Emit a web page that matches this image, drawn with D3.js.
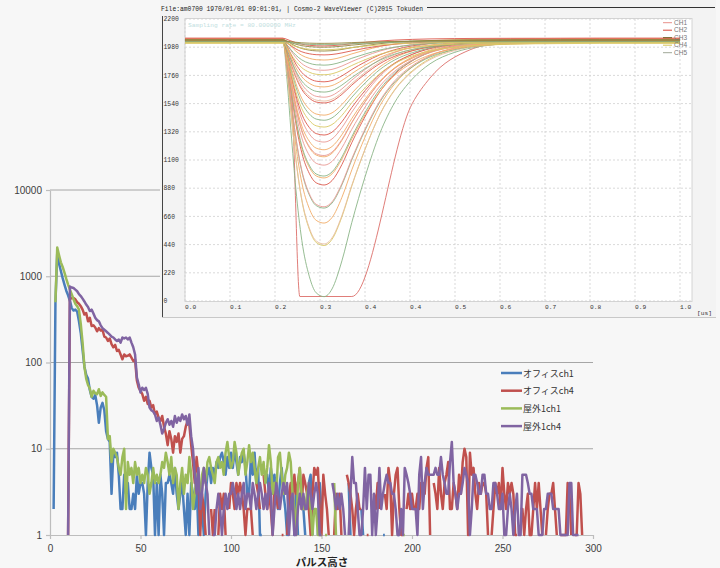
<!DOCTYPE html>
<html>
<head>
<meta charset="utf-8">
<script src="https://d3js.org/d3.v7.min.js"></script>
<style>
  body { margin: 0; background: #f7f7f7; }
  svg { display: block; }
  .ax text { font-family: "Liberation Sans", sans-serif; font-size: 10px; fill: #404040; }
  .mono { font-family: "Liberation Mono", "DejaVu Sans Mono", monospace; }
</style>
</head>
<body>
<script>
// ---- main histogram (log scale) ----
var xTicks = [0, 50, 100, 150, 200, 250, 300];
var yTicks = [1, 10, 100, 1000, 10000];
var seriesNames = ["オフィスch1", "オフィスch4", "屋外1ch1", "屋外1ch4"];
var seriesColors = ["#4a7ebb", "#c0504d", "#9bbb59", "#8064a2"];

// counts per pulse height bin (index = pulse height), 0 = empty bin
var office_ch1 = [
  0,0,2,490,1850,1400,1150,950,800,680,
  600,520,430,400,410,390,300,220,140,90,
  72,65,48,40,38,42,32,20,30,34,
  28,16,13,12,3,9,8,9,5,2,
  2,5,3,4,2,2,3,2,5,3,
  4,4,3,1,4,9,6,5,1,4,
  1,5,3,1,4,4,5,4,3,6,
  3,2,3,4,2,1,3,1,4,3,
  2,4,1,3,2,1,3,5,6,4,
  6,5,7,6,8,9,7,5,8,6,
  9,6,10,7,5,8,7,9,6,3,
  3,8,5,9,4,6,1,1,0,4,
  5,3,6,4,5,3,2,4,6,3,
  2,1,3,2,4,1,3,1,0,0,
  2,1,0,4,5,1,0,0,1,4,
  2,0,0,0,1,0,0,0,0,0,
  0,0,0,0,0,4,1,0,0,0,
  0,0,2,1,0,0,0,0,0,0,
  0,0,0,0,1,1,0,0,0,0,
  0,0,1,1,0,0
];
var office_ch4 = [
  0,0,0,0,0,0,0,0,0,0,
  1,540,560,560,540,500,480,450,410,360,
  375,300,330,265,270,255,230,250,235,240,
  200,195,178,190,163,150,160,136,140,124,
  109,124,118,120,124,114,104,108,62,51,
  47,43,36,40,33,36,30,32,25,27,
  23,21,24,18,15,11,16,13,9,14,
  12,15,9,13,14,18,21,19,11,7,
  4,8,5,1,3,2,1,0,0,2,
  1,2,0,1,3,2,3,1,0,2,
  4,3,2,4,3,4,3,2,1,2,
  2,2,1,0,4,3,2,0,5,3,
  2,3,2,1,4,3,2,0,1,1,
  0,1,3,4,2,5,3,4,6,2,
  5,4,3,2,1,3,6,5,6,2,
  1,5,3,2,1,0,0,1,3,2,
  3,1,0,0,5,4,3,2,1,2,
  3,2,2,0,0,1,1,0,0,3,
  2,4,2,0,0,3,2,6,4,1,
  3,5,6,2,1,1,0,2,3,2,
  3,2,2,3,2,4,4,3,6,8,
  1,0,4,3,2,6,3,2,4,5,
  7,2,2,4,3,2,5,3,7,10,
  8,1,9,5,6,3,2,4,3,4,
  4,3,1,0,1,2,4,3,4,2,
  6,3,2,4,3,4,3,1,1,0,
  2,2,1,2,3,1,1,2,4,2,
  4,2,1,0,1,2,3,3,4,2,
  1,0,1,1,1,1,4,3,1,0,
  1,1,4,3,1,0,0
];
var outdoor_ch1 = [
  0,0,0,500,2150,1750,1450,1280,1100,930,
  800,700,620,540,480,450,410,280,170,90,
  65,55,50,40,47,44,43,49,41,45,
  42,40,13,14,7,10,9,8,6,5,
  8,10,2,7,5,6,4,7,5,6,
  4,5,4,6,5,3,4,6,4,5,
  4,5,7,6,9,7,5,8,4,6,
  5,2,4,6,3,5,4,8,5,2,
  3,5,4,3,5,6,4,7,8,6,
  5,4,7,8,6,7,5,9,12,8,
  6,7,12,9,5,7,9,10,5,7,
  11,7,9,6,4,6,8,5,7,4,
  6,11,7,3,4,3,8,9,5,3,
  5,6,9,7,3,2,1,4,6,3,
  2,2,3,4,2,1,2,2,1,1,
  1,0,1,1,0,0,0,4,1,0,
  0,0,0,0,0,0,0,0,0,0,
  0,0,0,0,0,0,0,0,0,0,
  0,0,0,0,0,0,0,0,0,0,
  0,0,0,0,0,1,1,0
];
var outdoor_ch4 = [
  0,0,0,0,0,0,0,0,0,0,
  1,760,740,730,700,670,620,590,550,510,
  470,440,395,410,370,330,310,300,270,250,
  240,230,220,210,200,195,185,178,185,170,
  195,190,195,185,195,170,150,124,67,56,
  45,51,48,51,43,30,28,27,25,21,
  23,19,15,17,20,22,19,21,18,24,
  20,23,21,25,22,24,19,25,14,10,
  5,3,6,2,3,6,4,3,1,0,
  1,1,2,3,2,1,2,3,2,3,
  3,4,3,2,3,2,3,4,2,3,
  3,2,4,3,2,3,4,3,2,3,
  2,4,3,1,2,4,3,2,3,4,
  3,4,1,2,3,1,1,2,3,2,
  3,2,2,4,3,2,3,4,3,1,
  1,0,0,0,0,0,4,3,2,3,
  2,3,2,1,0,1,3,8,4,4,
  2,1,1,2,6,2,5,5,1,3,
  1,2,6,2,3,4,5,4,4,3,
  3,2,1,1,2,1,6,5,4,3,
  2,2,2,1,5,8,2,4,6,5,
  5,5,5,6,5,5,8,5,4,3,
  3,7,12,4,3,2,3,3,4,6,
  5,4,1,2,5,5,4,3,3,5,
  5,3,3,2,2,4,4,3,2,2,
  3,1,1,2,3,2,1,2,3,1,
  1,5,5,5,4,3,3,2,2,2,
  1,1,1,2,2,3,3,3,2,2,
  2,2,1,1,1,1,1,4,4,1,
  1,1,1,0
];
var seriesData = [office_ch1, office_ch4, outdoor_ch1, outdoor_ch4];

// ---- inset: waveform viewer ----
var waveXLabels = ["0.0","0.1","0.2","0.3","0.4","0.4","0.5","0.6","0.7","0.8","0.9","1.0"];
var waveYTicks = [0, 220, 440, 660, 880, 1100, 1320, 1540, 1760, 1980, 2200];
var chNames = ["CH1", "CH2", "CH3", "CH4", "CH5"];
var chColors = ["#e8908a", "#d9483b", "#6e5a1e", "#d6c455", "#a0a898"];
var wavePalette = ["#e8908a", "#d9483b", "#8a7a2c", "#d6c455", "#7fae7a", "#f0a458", "#e6b898"];

// pulse shape (fraction of pulse depth vs time)
var waveT     = [0, 0.198, 0.206, 0.214, 0.224, 0.236, 0.251, 0.265, 0.281, 0.297, 0.317, 0.337, 0.364, 0.394, 0.424, 0.459, 0.495, 0.545, 0.596, 0.657, 0.758, 0.838, 1.0];
var waveShape = [0, 0, 0.15, 0.35, 0.58, 0.78, 0.92, 0.985, 1, 0.97, 0.86, 0.71, 0.53, 0.36, 0.24, 0.15, 0.09, 0.045, 0.022, 0.01, 0.003, 0, 0];
// each pulse: minimum, baseline, colour index
var waveMin  = [34, 433, 445, 608, 725, 735, 905, 960, 975, 1060, 1125, 1135, 1180, 1240, 1295, 1357, 1410, 1450, 1545, 1560, 1590, 1630, 1670, 1710, 1765, 1800, 1840, 1880, 1920, 1950, 1960, 1980, 1990, 2000, 2010];
var waveBase = [2030, 2035, 2025, 2040, 2020, 2030, 2045, 2015, 2035, 2025, 2040, 2030, 2020, 2045, 2035, 2010, 2030, 2040, 2025, 2035, 2050, 2020, 2030, 2040, 2015, 2035, 2025, 2045, 2030, 2040, 2020, 2035, 2050, 2025, 2030];
var waveCol  = [4, 3, 6, 5, 4, 0, 1, 5, 4, 0, 5, 0, 5, 0, 1, 3, 4, 5, 1, 6, 0, 4, 5, 1, 3, 0, 4, 5, 1, 2, 3, 2, 1, 4, 2];
// the saturated pulse
var satT = [0, 0.198, 0.216, 0.232, 0.337, 0.459, 0.495, 0.576, 0.636, 0.758, 1.0];
var satV = [2030, 2030, 1560, 35, 35, 1540, 1740, 1960, 2010, 2030, 2030];

var W = 720, H = 568;
var svg = d3.select("body").append("svg").attr("width", W).attr("height", H);
svg.append("rect").attr("width", W).attr("height", H).attr("fill", "#f7f7f7");

// scales
var x = d3.scaleLinear().domain([0, 300]).range([50, 593]);
var y = d3.scaleLog().domain([1, 10000]).range([535, 190]).clamp(true);

// grid
svg.append("g").selectAll("line")
  .data(yTicks.filter(function (d) { return d > 1; }))
  .enter().append("line")
  .attr("x1", 50).attr("x2", 593)
  .attr("y1", function (d) { return y(d); })
  .attr("y2", function (d) { return y(d); })
  .attr("stroke", "#a6a6a6").attr("stroke-width", 1);

// axes
var gy = svg.append("g").attr("class", "ax").attr("transform", "translate(50,0)")
  .call(d3.axisLeft(y).tickValues(yTicks).tickFormat(d3.format("d"))
    .tickSize(4).tickSizeOuter(0).tickPadding(4));
var gx = svg.append("g").attr("class", "ax").attr("transform", "translate(0,535)")
  .call(d3.axisBottom(x).tickValues(xTicks).tickSize(4).tickSizeOuter(0).tickPadding(6));
svg.selectAll(".ax .domain, .ax .tick line").attr("stroke", "#bdbdbd").attr("stroke-width", 1.2);

// series
var line = d3.line()
  .defined(function (d) { return d > 0; })
  .x(function (d, i) { return x(i); })
  .y(function (d) { return y(d); });

seriesData.forEach(function (s, k) {
  svg.append("path").datum(s)
    .attr("d", line)
    .attr("fill", "none")
    .attr("stroke", seriesColors[k])
    .attr("stroke-width", 2.5)
    .attr("stroke-linejoin", "round");
});

// x title
svg.append("text").text("パルス高さ")
  .attr("x", 322).attr("y", 566)
  .attr("text-anchor", "middle")
  .attr("font-family", "Noto Sans CJK JP")
  .attr("font-size", 10.5).attr("font-weight", "bold").attr("fill", "#222");

// legend
var lg = svg.append("g");
seriesNames.forEach(function (n, i) {
  var ly = 373 + i * 17.7;
  lg.append("line").attr("x1", 501).attr("x2", 522).attr("y1", ly).attr("y2", ly)
    .attr("stroke", seriesColors[i]).attr("stroke-width", 2.5);
  lg.append("text").text(n).attr("x", 523).attr("y", ly + 3.5)
    .attr("font-family", "Noto Sans CJK JP").attr("font-size", 9).attr("fill", "#333");
});

// ---- inset ----
var ins = svg.append("g");
ins.append("rect").attr("x", 160).attr("y", 0).attr("width", 556).attr("height", 318)
  .attr("fill", "#f3f3f3");
ins.append("line").attr("x1", 162.5).attr("x2", 162.5).attr("y1", 16).attr("y2", 318)
  .attr("stroke", "#444").attr("stroke-width", 1);
ins.append("line").attr("x1", 162).attr("x2", 716).attr("y1", 317.5).attr("y2", 317.5)
  .attr("stroke", "#c8c8c8").attr("stroke-width", 1);

ins.append("text").attr("class", "mono")
  .text("File:am0700 1970/01/01 09:01:01, | Cosmo-2 WaveViewer (C)2015 Tokuden")
  .attr("x", 161).attr("y", 11)
  .attr("font-size", 6.5).attr("textLength", 262).attr("lengthAdjust", "spacingAndGlyphs")
  .attr("fill", "#222");
ins.append("line").attr("x1", 427).attr("x2", 715).attr("y1", 7.5).attr("y2", 7.5)
  .attr("stroke", "#333").attr("stroke-width", 1);

var xs = d3.scaleLinear().domain([0, 1]).range([185, 680]);
var ys = d3.scaleLinear().domain([0, 2200]).range([301, 19]);

ins.append("rect").attr("x", 185).attr("y", 18.5).attr("width", 507).attr("height", 283)
  .attr("fill", "#fff").attr("stroke", "#d4d4d4").attr("stroke-width", 1);

var xtv = waveXLabels.map(function (d, i) { return i / (waveXLabels.length - 1); });
ins.append("g").selectAll("line").data(xtv).enter().append("line")
  .attr("x1", function (d) { return xs(d); }).attr("x2", function (d) { return xs(d); })
  .attr("y1", 19).attr("y2", 301)
  .attr("stroke", "#cfcfcf").attr("stroke-width", 0.8).attr("stroke-dasharray", "2,2");
ins.append("g").selectAll("line").data(waveYTicks).enter().append("line")
  .attr("x1", 185).attr("x2", 692)
  .attr("y1", function (d) { return ys(d); }).attr("y2", function (d) { return ys(d); })
  .attr("stroke", "#cfcfcf").attr("stroke-width", 0.8).attr("stroke-dasharray", "2,2");

ins.append("text").attr("class", "mono").text("Sampling rate = 80.000000 MHz")
  .attr("x", 188).attr("y", 27).attr("font-size", 6.2).attr("fill", "#bfe0e0");

// waveforms
var wline = d3.line()
  .x(function (d) { return xs(d[0]); })
  .y(function (d) { return ys(d[1]); })
  .curve(d3.curveMonotoneX);
var wg = ins.append("g").attr("fill", "none").attr("stroke-width", 0.9).attr("opacity", 0.9);
wg.append("path")
  .attr("d", wline(satT.map(function (t, i) { return [t, satV[i]]; })))
  .attr("stroke", "#d9605a");
waveMin.forEach(function (m, k) {
  var b = waveBase[k];
  var pts = waveT.map(function (t, i) { return [t, b - (b - m) * waveShape[i]]; });
  wg.append("path").attr("d", wline(pts)).attr("stroke", wavePalette[waveCol[k]]);
});

// inset axes labels
ins.append("g").selectAll("text").data(waveYTicks).enter().append("text")
  .attr("class", "mono").text(function (d) { return d; })
  .attr("x", 163.5).attr("y", function (d) { return ys(d) + 2.2; })
  .attr("font-size", 6.4).attr("fill", "#333");
ins.append("g").selectAll("text").data(xtv).enter().append("text")
  .attr("class", "mono").text(function (d, i) { return waveXLabels[i]; })
  .attr("x", function (d) { return xs(d); }).attr("y", 309)
  .attr("font-size", 6.2).attr("fill", "#333");
ins.append("text").attr("class", "mono").text("[us]")
  .attr("x", 697).attr("y", 315).attr("font-size", 6.2).attr("fill", "#333");

// inset legend
chNames.forEach(function (n, i) {
  var ly = 22.7 + i * 7.5;
  ins.append("line").attr("x1", 663).attr("x2", 672).attr("y1", ly).attr("y2", ly)
    .attr("stroke", chColors[i]).attr("stroke-width", 1);
  ins.append("text").text(n).attr("x", 674).attr("y", ly + 2.2)
    .attr("font-family", "Liberation Sans").attr("font-size", 6.5).attr("fill", "#777");
});
</script>
</body>
</html>
